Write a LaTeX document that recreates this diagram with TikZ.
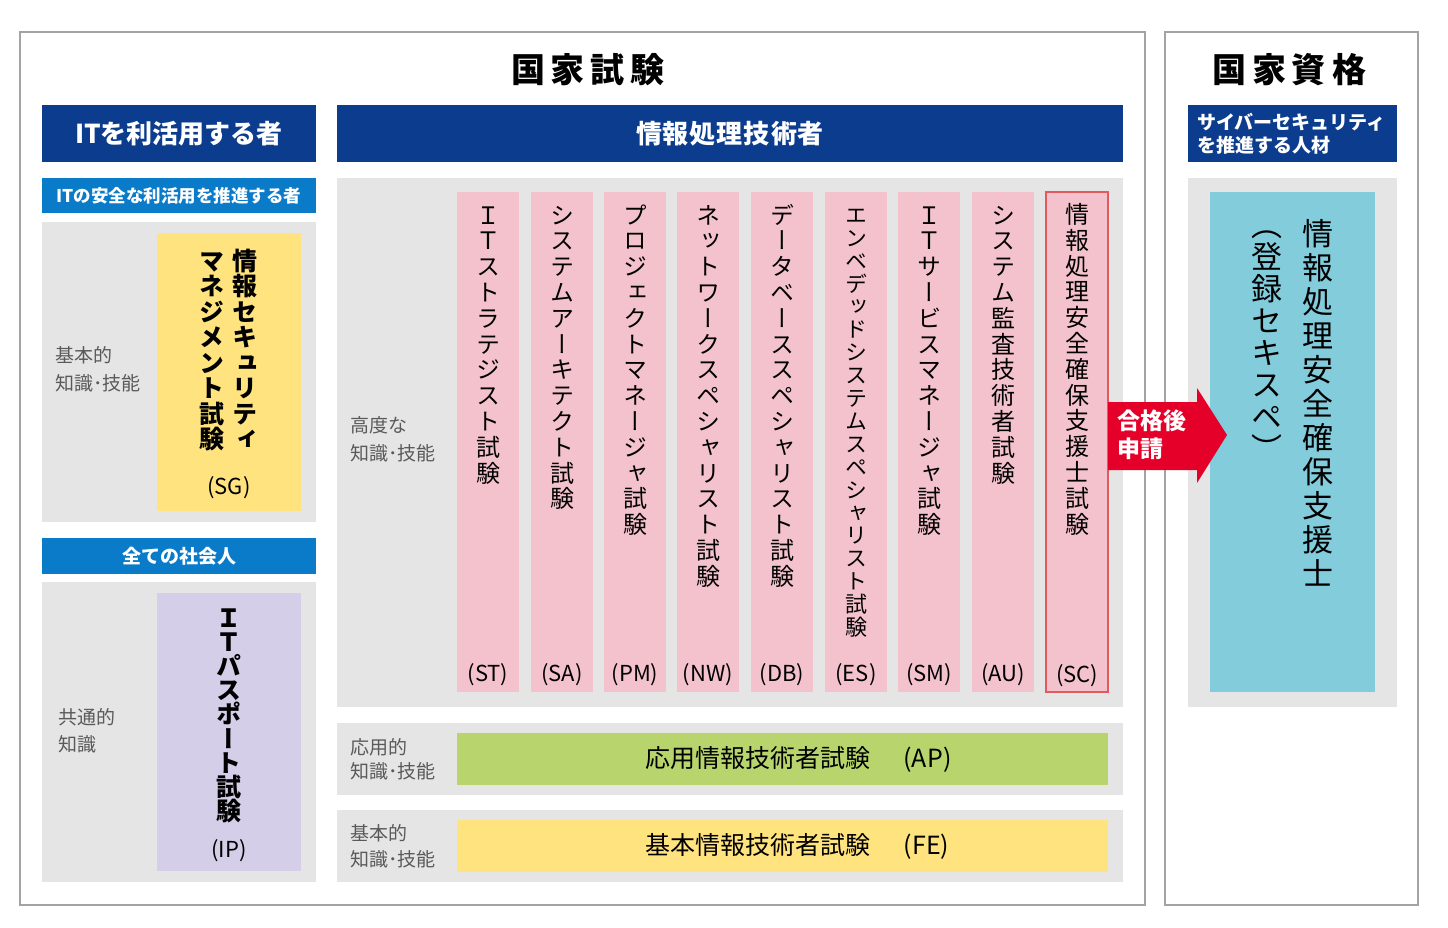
\documentclass[tikz,border=0pt]{standalone}
\usepackage{fontspec}
\usetikzlibrary{positioning}
\setmainfont{Noto Sans CJK JP}
\newfontfamily\tatefont[RawFeature=+vert]{Noto Sans CJK JP}
\definecolor{framegray}{HTML}{A3A3A3}
\definecolor{darkblue}{HTML}{0C3C8E}
\definecolor{midblue}{HTML}{0A7BC9}
\definecolor{boxgray}{HTML}{E5E5E5}
\definecolor{lvltext}{HTML}{5A5A5A}
\definecolor{pinkfill}{HTML}{F4C2CD}
\definecolor{scred}{HTML}{E25A5E}
\definecolor{yellowfill}{HTML}{FFE37E}
\definecolor{violetfill}{HTML}{D5CEE8}
\definecolor{greenfill}{HTML}{B7D56C}
\definecolor{cyanfill}{HTML}{82CCDC}
\definecolor{arrowred}{HTML}{E5002A}
% one glyph per line, top to bottom
\def\tatestep#1{\ifx\relax#1\else\hbox to 1em{\hss#1\hss\vrule height .88em depth .12em width 0pt}\expandafter\tatestep\fi}
\def\tate#1#2{\vbox{\tatefont\baselineskip=#1\lineskiplimit=-100pt\tatestep#2\relax}}
\tikzset{
	frame/.style={draw=framegray, line width=1.5pt},
	title/.style={font=\bfseries\fontsize{34}{40}\selectfont, inner sep=0},
	hdr/.style={fill=darkblue, text=white, font=\bfseries\fontsize{26}{30}\selectfont, inner sep=0},
	subhdr/.style={fill=midblue, text=white, font=\bfseries\fontsize{19}{22}\selectfont, inner sep=0},
	lvl/.style={text=lvltext, align=left, anchor=west, inner sep=0},
	exam/.style={fill=pinkfill, minimum width=62, minimum height=500, inner sep=0},
	code/.style={font=\fontsize{22}{26}\selectfont, inner sep=0},
	tatetext/.style={anchor=north, inner sep=0, font=\fontsize{24}{26}\selectfont},
	bar/.style={minimum width=651, minimum height=52, inner sep=0, font=\fontsize{25}{28}\selectfont}
}

\begin{document}
\begin{tikzpicture}[x=1pt,y=-1pt]
		%%%%% START %%%%%
		\useasboundingbox (0,0) rectangle (1448,928);
		
		\draw[frame] (20,32) rectangle (1145,905);
		\draw[frame] (1165,32) rectangle (1418,905);
		\node[title] (shiken) at (588,70) {国\kern6pt 家\kern6pt 試\kern6pt 験};
		\node[title] (shikaku) at (1289,70) {国\kern6pt 家\kern6pt 資\kern6pt 格};
		
		% headers
		\node[hdr, minimum width=274, minimum height=57] (riyou) at (179,133.5) {ITを利活用する者};
		\node[hdr, minimum width=786, minimum height=57] (gijutsusha) at (730,133.5) {情\kern1pt 報\kern1pt 処\kern1pt 理\kern1pt 技\kern1pt 術\kern1pt 者};
		\node[hdr, minimum width=209, minimum height=57] (jinzai) at (1292.5,133.5) {};
		\node[anchor=west, text=white, font=\bfseries\fontsize{19}{23}\selectfont, align=left, inner sep=0] (jinzai-t) at (1197,133.5) {サイバーセキュリティ\\を推進する人材};
		\node[subhdr, font=\bfseries\fontsize{17.5}{22}\selectfont, minimum width=274, minimum height=35] (suishin) at (179,195.5) {ITの安全な利活用を推進する者};
		\node[subhdr, minimum width=274, minimum height=36] (shakaijin) at (179,556) {全ての社会人};
		
		% gray grounds
		\fill[boxgray] (42,222) rectangle (316,522);
		\fill[boxgray] (42,582) rectangle (316,882);
		\fill[boxgray] (337,178) rectangle (1123,707);
		\fill[boxgray] (337,723) rectangle (1123,795);
		\fill[boxgray] (337,810) rectangle (1123,882);
		\fill[boxgray] (1188,178) rectangle (1397,707);
		
		\node[lvl, font=\fontsize{19}{28}\selectfont] (lvl-sg) at (55,369) {基本的\\知識･技能};
		\node[lvl, font=\fontsize{19}{27}\selectfont] (lvl-ip) at (58,731) {共通的\\知識};
		\node[lvl, font=\fontsize{19}{28}\selectfont] (lvl-koudo) at (350,439) {高度な\\知識･技能};
		\node[lvl, font=\fontsize{19}{24}\selectfont] (lvl-ap) at (350,759) {応用的\\知識･技能};
		\node[lvl, font=\fontsize{19}{26}\selectfont] (lvl-fe) at (350,846) {基本的\\知識･技能};
		
		% SG and IP
		\node[fill=yellowfill, minimum width=144, minimum height=278, inner sep=0] (sg) at (229,372) {};
		\node[tatetext, font=\bfseries\fontsize{25}{27}\selectfont, below=15pt of sg.north, xshift=16pt] (sg-a) {\tate{25.5pt}{情報セキュリティ}};
		\node[tatetext, font=\bfseries\fontsize{25}{27}\selectfont, below=15pt of sg.north, xshift=-17pt] (sg-b) {\tate{25.5pt}{マネジメント試験}};
		\node[code, above=12pt of sg.south] (sg-c) {(SG)};
		\node[fill=violetfill, minimum width=144, minimum height=278, inner sep=0] (ip) at (229,732) {};
		\node[tatetext, font=\bfseries\fontsize{25}{27}\selectfont, below=12pt of ip.north] (ip-t) {\tate{24.2pt}{ＩＴパスポート試験}};
		\node[code, above=9pt of ip.south] (ip-c) {(IP)};
		
		% advanced exams
		\node[exam] (st) at (488,442) {};
		\node[exam] (sa) at (562,442) {};
		\node[exam] (pm) at (635,442) {};
		\node[exam] (nw) at (708,442) {};
		\node[exam] (db) at (782,442) {};
		\node[exam] (es) at (856,442) {};
		\node[exam] (sm) at (929,442) {};
		\node[exam] (au) at (1003,442) {};
		\node[exam, draw=scred, line width=1.5pt] (sc) at (1077,442) {};
		
		\node[tatetext, below=11pt of st.north] (st-t) {\tate{25.8pt}{ＩＴストラテジスト試験}};
		\node[tatetext, below=11pt of sa.north] (sa-t) {\tate{25.8pt}{システムアーキテクト試験}};
		\node[tatetext, below=11pt of pm.north] (pm-t) {\tate{25.8pt}{プロジェクトマネージャ試験}};
		\node[tatetext, below=11pt of nw.north] (nw-t) {\tate{25.8pt}{ネットワークスペシャリスト試験}};
		\node[tatetext, below=11pt of db.north] (db-t) {\tate{25.8pt}{データベーススペシャリスト試験}};
		\node[tatetext, font=\fontsize{22}{24}\selectfont, below=12pt of es.north] (es-t) {\tate{22.9pt}{エンベデッドシステムスペシャリスト試験}};
		\node[tatetext, below=11pt of sm.north] (sm-t) {\tate{25.8pt}{ＩＴサービスマネージャ試験}};
		\node[tatetext, below=11pt of au.north] (au-t) {\tate{25.8pt}{システム監査技術者試験}};
		\node[tatetext, below=11pt of sc.north] (sc-t) {\tate{25.8pt}{情報処理安全確保支援士試験}};
		
		\node[code, above=6pt of st.south] (st-c) {(ST)};
		\node[code, above=6pt of sa.south] (sa-c) {(SA)};
		\node[code, above=6pt of pm.south] (pm-c) {(PM)};
		\node[code, above=6pt of nw.south] (nw-c) {(NW)};
		\node[code, above=6pt of db.south] (db-c) {(DB)};
		\node[code, above=6pt of es.south] (es-c) {(ES)};
		\node[code, above=6pt of sm.south] (sm-c) {(SM)};
		\node[code, above=6pt of au.south] (au-c) {(AU)};
		\node[code, above=6pt of sc.south] (sc-c) {(SC)};
		
		% AP and FE
		\node[bar, fill=greenfill] (ap) at (782.5,759) {};
		\node[font=\fontsize{25}{28}\selectfont, inner sep=0] (ap-t) at (798.5,759) {応用情報技術者試験\hspace{33pt}(AP)};
		\node[bar, fill=yellowfill] (fe) at (782.5,846) {};
		\node[font=\fontsize{25}{28}\selectfont, inner sep=0] (fe-t) at (797.5,846) {基本情報技術者試験\hspace{33pt}(FE)};
		
		% registered specialist
		\node[fill=cyanfill, minimum width=165, minimum height=500, inner sep=0] (sekisupe) at (1292.5,442) {};
		\node[tatetext, font=\fontsize{31}{33}\selectfont, below=26pt of sekisupe.north, xshift=25.5pt] (sekisupe-a) {\tate{34pt}{情報処理安全確保支援士}};
		\node[tatetext, font=\fontsize{31}{33}\selectfont, below=17pt of sekisupe.north, xshift=-25.5pt] (sekisupe-b) {\tate{32pt}{（登録セキスペ）}};
		
		% arrow
		\fill[arrowred] (1108,402) -- (1197,402) -- (1197,388) -- (1227,435) -- (1197,483) -- (1197,470) -- (1108,470) -- cycle;
		\node[anchor=west, text=white, font=\bfseries\fontsize{23}{28}\selectfont, align=left, inner sep=0] (goukaku) at (1117,435) {合格後\\申請};
		
		%%%%% END %%%%%
\end{tikzpicture}
\end{document}
